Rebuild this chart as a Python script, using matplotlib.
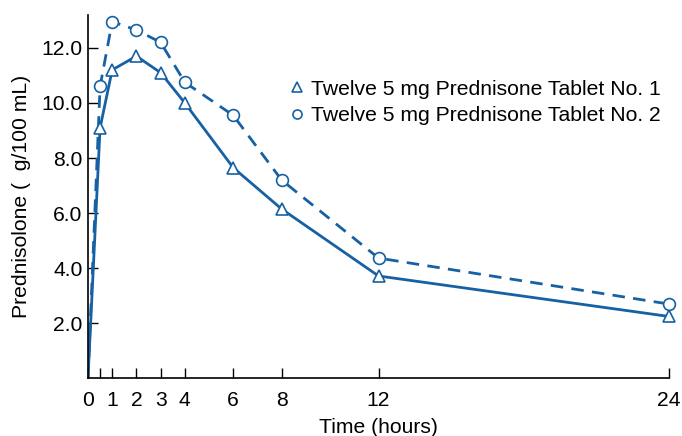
import matplotlib
matplotlib.use("Agg")
import matplotlib.pyplot as plt
from matplotlib.lines import Line2D

plt.rcParams["font.family"] = ["Liberation Sans", "DejaVu Sans"]

# Sampling times (hours) and plasma prednisolone levels
time_h = [0, 0.5, 1, 2, 3, 4, 6, 8, 12, 24]
tablet_1 = [0, 9.1, 11.2, 11.7, 11.1, 10.0, 7.65, 6.15, 3.72, 2.25]
tablet_2 = [0, 10.6, 12.95, 12.65, 12.2, 10.75, 9.55, 7.2, 4.37, 2.7]

x_ticks = [0, 0.5, 1, 2, 3, 4, 6, 8, 12, 24]
x_tick_labels = ["0", "", "1", "2", "3", "4", "6", "8", "12", "24"]
y_ticks = [2, 4, 6, 8, 10, 12]
y_tick_labels = ["2.0", "4.0", "6.0", "8.0", "10.0", "12.0"]

legend_labels = ["Twelve 5 mg Prednisone Tablet No. 1",
                 "Twelve 5 mg Prednisone Tablet No. 2"]

blue = "#1661a3"
fs = 15.2

fig = plt.figure(figsize=(6.82, 4.36), dpi=100)
ax = fig.add_axes([0.129, 0.132, 0.852, 0.834])

# lines from the origin, markers only on the measured samples
ax.plot(time_h, tablet_1, color=blue, lw=2.0, zorder=2)
ax.plot(time_h, tablet_2, color=blue, lw=2.0, ls=(0, (4.5, 3)), zorder=2)
ax.plot(time_h[1:], tablet_1[1:], ls="none", marker="^", ms=9,
        mfc="white", mec=blue, mew=1.2, clip_on=False, zorder=3)
ax.plot(time_h[1:], tablet_2[1:], ls="none", marker="o", ms=8.5,
        mfc="white", mec=blue, mew=1.2, clip_on=False, zorder=3)

ax.set_xlim(0, 24)
ax.set_ylim(0, 13.2)
ax.set_xticks(x_ticks)
ax.set_xticklabels(x_tick_labels)
ax.set_yticks(y_ticks)
ax.set_yticklabels(y_tick_labels)
ax.tick_params(direction="in", length=7, width=1, labelsize=fs)
ax.tick_params(axis="x", pad=9)
ax.tick_params(axis="y", pad=4)

for side in ["top", "right"]:
    ax.spines[side].set_visible(False)
for side in ["left", "bottom"]:
    ax.spines[side].set_linewidth(1.2)

ax.set_xlabel("Time (hours)", fontsize=fs, labelpad=6)
ax.set_ylabel("Prednisolone (  g/100 mL)", fontsize=fs, labelpad=7)

handles = [
    Line2D([], [], ls="none", marker="^", ms=6.5, mfc="white", mec=blue, mew=1.2),
    Line2D([], [], ls="none", marker="o", ms=6.5, mfc="white", mec=blue, mew=1.2),
]
ax.legend(handles, legend_labels, loc="upper left", bbox_to_anchor=(0.335, 0.845),
          frameon=False, fontsize=fs, handlelength=0.6, handletextpad=0.35,
          labelspacing=0.35, borderaxespad=0)

fig.savefig("out.png", dpi=100)
